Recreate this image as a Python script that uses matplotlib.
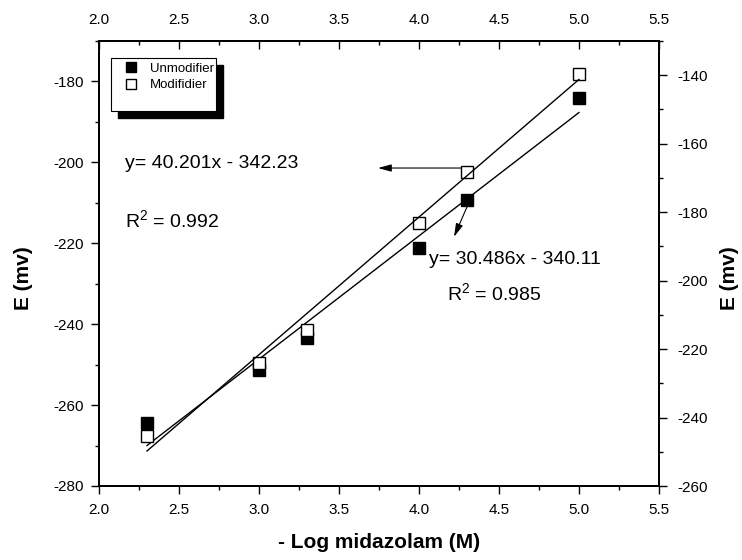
"""
Calibration plot: electrode potential vs - log midazolam concentration
for the unmodified (left axis) and modified (right axis) electrodes.
"""

import matplotlib
matplotlib.use("Agg")
import matplotlib.pyplot as plt
import numpy as np
from matplotlib.patches import Rectangle
from matplotlib.ticker import MultipleLocator

# Data
log_conc = [2.3, 3.0, 3.3, 4.0, 4.3, 5.0]
e_unmodified = [-264.5, -251.4, -243.3, -221.1, -209.4, -184.2]
e_modified = [-245.5, -224.2, -214.4, -183.3, -168.4, -139.5]

# Regression values printed on the chart (slope, intercept, R^2)
fit_unmodified = (30.486, -340.11, 0.985)
fit_modified = (40.201, -342.23, 0.992)

series_labels = ["Unmodifier", "Modifidier"]
x_label = "- Log midazolam (M)"
y_label = "E (mv)"

x_ticks = [2.0, 2.5, 3.0, 3.5, 4.0, 4.5, 5.0, 5.5]
left_ticks = [-280, -260, -240, -220, -200, -180]
right_ticks = [-260, -240, -220, -200, -180, -160, -140]


def equation_text(fit):
    """Format a fitted line like the original annotation."""
    slope, intercept, _ = fit
    return f"y= {slope:.3f}x - {abs(intercept):.2f}"


def style_axis(ax):
    """Common tick font and spine width."""
    for spine in ax.spines.values():
        spine.set_linewidth(1.3)
    ax.tick_params(which="both", labelsize=11, width=1.0)
    ax.tick_params(which="major", length=6)
    ax.tick_params(which="minor", length=3)


def main():
    plt.rcParams["font.family"] = ["Liberation Sans", "DejaVu Sans"]
    plt.rcParams["mathtext.default"] = "regular"
    plt.rcParams["axes.unicode_minus"] = False

    fig = plt.figure(figsize=(7.42, 5.60), dpi=100)
    ax = fig.add_axes([99 / 742, 1 - 486 / 560, 560 / 742, 445 / 560])
    ax2 = ax.twinx()

    # Unmodified electrode on the left axis
    ax.plot(log_conc, e_unmodified, "s", color="black", markersize=8.5,
            markeredgewidth=1.0, linestyle="none", label=series_labels[0],
            zorder=3)
    xs = np.array([min(log_conc), max(log_conc)])
    ax.plot(xs, np.polyval(fit_unmodified[:2], xs), color="black",
            linewidth=1.0, zorder=4)

    # Modified electrode on the right axis
    ax2.plot(log_conc, e_modified, "s", markerfacecolor="white",
             markeredgecolor="black", markersize=8.5, markeredgewidth=1.0,
             linestyle="none", label=series_labels[1], zorder=3)
    ax2.plot(xs, np.polyval(fit_modified[:2], xs), color="black",
             linewidth=1.0, zorder=4)

    # Axis ranges and ticks
    ax.set_xlim(2.0, 5.5)
    ax.set_ylim(-280, -170)
    ax2.set_ylim(-260, -130)
    ax.set_xticks(x_ticks)
    ax.set_xticklabels([f"{t:.1f}" for t in x_ticks])
    ax.xaxis.set_minor_locator(MultipleLocator(0.25))
    ax.set_yticks(left_ticks)
    ax.yaxis.set_minor_locator(MultipleLocator(10))
    ax2.set_yticks(right_ticks)
    ax2.yaxis.set_minor_locator(MultipleLocator(10))

    style_axis(ax)
    style_axis(ax2)
    ax.tick_params(axis="x", which="both", direction="out", top=False)
    ax.tick_params(axis="x", which="major", pad=6)
    ax.tick_params(axis="y", which="both", direction="out", right=False)
    ax.tick_params(axis="y", which="major", pad=5)
    ax2.tick_params(axis="y", which="both", direction="out")
    ax2.tick_params(axis="y", which="major", pad=7)

    # Top axis mirrors the bottom one, ticks pointing inside
    top = ax.secondary_xaxis("top")
    top.set_xticks(x_ticks)
    top.set_xticklabels([f"{t:.1f}" for t in x_ticks])
    top.xaxis.set_minor_locator(MultipleLocator(0.25))
    style_axis(top)
    top.tick_params(which="both", direction="in")
    top.tick_params(which="major", pad=10)

    # Axis titles
    ax.set_xlabel(x_label, fontsize=15, fontweight="bold")
    ax.xaxis.set_label_coords(0.5, -0.105)
    ax.set_ylabel(y_label, fontsize=15, fontweight="bold")
    ax.yaxis.set_label_coords(-0.118, 0.467)
    ax2.set_ylabel(y_label, fontsize=15, fontweight="bold", rotation=90)
    ax2.yaxis.set_label_coords(1.109, 0.467)

    # Regression annotations
    ax.text(2.1625, -200.4, equation_text(fit_modified), fontsize=14,
            ha="left", va="center")
    ax.text(2.1625, -214.2, f"R$^2$ = {fit_modified[2]:.3f}", fontsize=14,
            ha="left", va="center")
    ax.text(4.0625, -224.1, equation_text(fit_unmodified), fontsize=14,
            ha="left", va="center")
    ax.text(4.175, -232.3, f"R$^2$ = {fit_unmodified[2]:.3f}", fontsize=14,
            ha="left", va="center")

    arrow = dict(arrowstyle="-|>,head_length=0.8,head_width=0.22",
                 color="black", lw=0.8, mutation_scale=10,
                 shrinkA=0, shrinkB=0)
    ax.annotate("", xy=(3.744, -201.4), xytext=(4.275, -201.4),
                arrowprops=arrow)
    ax.annotate("", xy=(4.219, -218.4), xytext=(4.30, -211.0),
                arrowprops=arrow)

    # Legend with a hard black shadow, as in the original
    box_x, box_y, box_w, box_h = 0.0214, 0.843, 0.1875, 0.119
    ax2.add_patch(Rectangle((box_x + 0.0125, box_y - 0.0157), box_w, box_h,
                            transform=ax2.transAxes, facecolor="black",
                            edgecolor="black", zorder=5, clip_on=False))
    ax2.add_patch(Rectangle((box_x, box_y), box_w, box_h,
                            transform=ax2.transAxes, facecolor="white",
                            edgecolor="black", linewidth=0.8, zorder=6,
                            clip_on=False))
    handles = ax.get_legend_handles_labels()[0] + \
        ax2.get_legend_handles_labels()[0]
    leg = ax2.legend(handles, series_labels, loc="upper left",
                     bbox_to_anchor=(0.0386, 0.951), frameon=False,
                     borderpad=0, borderaxespad=0, handlelength=1.5,
                     handletextpad=0.75, labelspacing=0.3, fontsize=9.5,
                     markerscale=0.9)
    leg.set_zorder(7)

    fig.savefig("out.png", dpi=100, facecolor="white")
    plt.close(fig)


if __name__ == "__main__":
    main()
